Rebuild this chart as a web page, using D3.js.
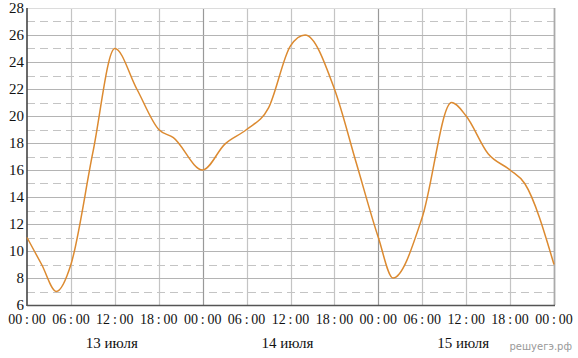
<!DOCTYPE html>
<html>
<head>
<meta charset="utf-8">
<script src="https://d3js.org/d3.v7.min.js"></script>
<style>
  body { margin: 0; background: #fff; }
  svg text { font-family: "Liberation Serif", "Times New Roman", serif; fill: #111; }
</style>
</head>
<body>
<div id="chart"></div>
<script>
  // hours since 13 July 00:00 and temperature readings
  const hours = [0, 2, 4, 6, 9, 12, 15, 18, 20, 24, 27, 30, 33, 36, 38, 42, 45, 48, 50, 54, 58, 60, 63, 66, 68, 72];
  const temps = [11, 9, 7, 9, 17.3, 25, 22, 19, 18.4, 16, 17.9, 19, 20.6, 25.2, 26, 22, 16.5, 11, 8, 12.5, 21, 20, 17.2, 16, 15, 9];
  const timeTicks = ["00\u2009:\u200900", "06\u2009:\u200900", "12\u2009:\u200900", "18\u2009:\u200900"];
  const dayLabels = ["13 июля", "14 июля", "15 июля"];
  const yTicks = [6, 8, 10, 12, 14, 16, 18, 20, 22, 24, 26, 28];

  const w = 578, h = 358;
  const mLeft = 27, mRight = 554, mTop = 8, mBottom = 305;

  const svg = d3.select("#chart").append("svg")
    .attr("width", w)
    .attr("height", h);

  const x = d3.scaleLinear().domain([0, 72]).range([mLeft, mRight]);
  const y = d3.scaleLinear().domain([6, 28]).range([mBottom, mTop]);

  // dashed lines at odd values
  svg.selectAll(".odd")
    .data(d3.range(7, 28, 2))
    .join("line")
      .attr("x1", mLeft).attr("x2", mRight)
      .attr("y1", d => Math.round(y(d)) + 0.5).attr("y2", d => Math.round(y(d)) + 0.5)
      .attr("stroke", "#c4c4c4")
      .attr("stroke-dasharray", "8,5");

  // vertical grid every 6 hours
  svg.selectAll(".vg")
    .data(d3.range(6, 72, 6))
    .join("line")
      .attr("x1", d => Math.round(x(d)) + 0.5).attr("x2", d => Math.round(x(d)) + 0.5)
      .attr("y1", mTop).attr("y2", mBottom)
      .attr("stroke", d => d % 24 == 0 ? "#999" : "#c4c4c4")
      .attr("stroke-width", 1.2);

  // solid lines at even values
  svg.selectAll(".even")
    .data(yTicks.slice(1))
    .join("line")
      .attr("x1", mLeft).attr("x2", mRight)
      .attr("y1", d => Math.round(y(d)) + 0.5).attr("y2", d => Math.round(y(d)) + 0.5)
      .attr("stroke", d => d == 28 ? "#dcdcdc" : "#b4b4b4")
      .attr("stroke-width", 1.2);

  // right border
  svg.append("line")
    .attr("x1", mRight + 0.5).attr("x2", mRight + 0.5)
    .attr("y1", mTop).attr("y2", mBottom)
    .attr("stroke", "#aaa")
    .attr("stroke-width", 1.8);

  // axes
  svg.append("line")
    .attr("x1", mLeft).attr("x2", mLeft)
    .attr("y1", mTop).attr("y2", mBottom + 1)
    .attr("stroke", "#444").attr("stroke-width", 1.6);
  svg.append("line")
    .attr("x1", mLeft).attr("x2", mRight + 1)
    .attr("y1", mBottom + 0.5).attr("y2", mBottom + 0.5)
    .attr("stroke", "#555").attr("stroke-width", 1.6);

  const line = d3.line()
    .x((d, i) => x(hours[i]))
    .y(d => y(d))
    .curve(d3.curveMonotoneX);

  svg.append("path")
    .datum(temps)
    .attr("d", line)
    .attr("fill", "none")
    .attr("stroke", "#dc8a30")
    .attr("stroke-width", 1.5);

  // y labels
  svg.selectAll(".yl")
    .data(yTicks)
    .join("text")
      .attr("x", 24)
      .attr("y", d => y(d) + 5)
      .attr("text-anchor", "end")
      .attr("font-size", "15px")
      .text(d => d);

  // time labels
  svg.selectAll(".xl")
    .data(d3.range(0, 73, 6))
    .join("text")
      .attr("x", d => Math.max(x(d), 23))
      .attr("y", 324)
      .attr("text-anchor", "middle")
      .attr("font-size", "14px")
      .text((d, i) => timeTicks[i % 4]);

  // day labels
  svg.selectAll(".dl")
    .data(dayLabels)
    .join("text")
      .attr("x", (d, i) => x(12 + i * 24) - 3)
      .attr("y", 348)
      .attr("text-anchor", "middle")
      .attr("font-size", "15px")
      .text(d => d);

  svg.append("text")
    .attr("x", 572)
    .attr("y", 350)
    .attr("text-anchor", "end")
    .attr("font-size", "10px")
    .style("font-family", "'DejaVu Sans', sans-serif")
    .style("fill", "#999")
    .text("решуегэ.рф");
</script>
</body>
</html>
